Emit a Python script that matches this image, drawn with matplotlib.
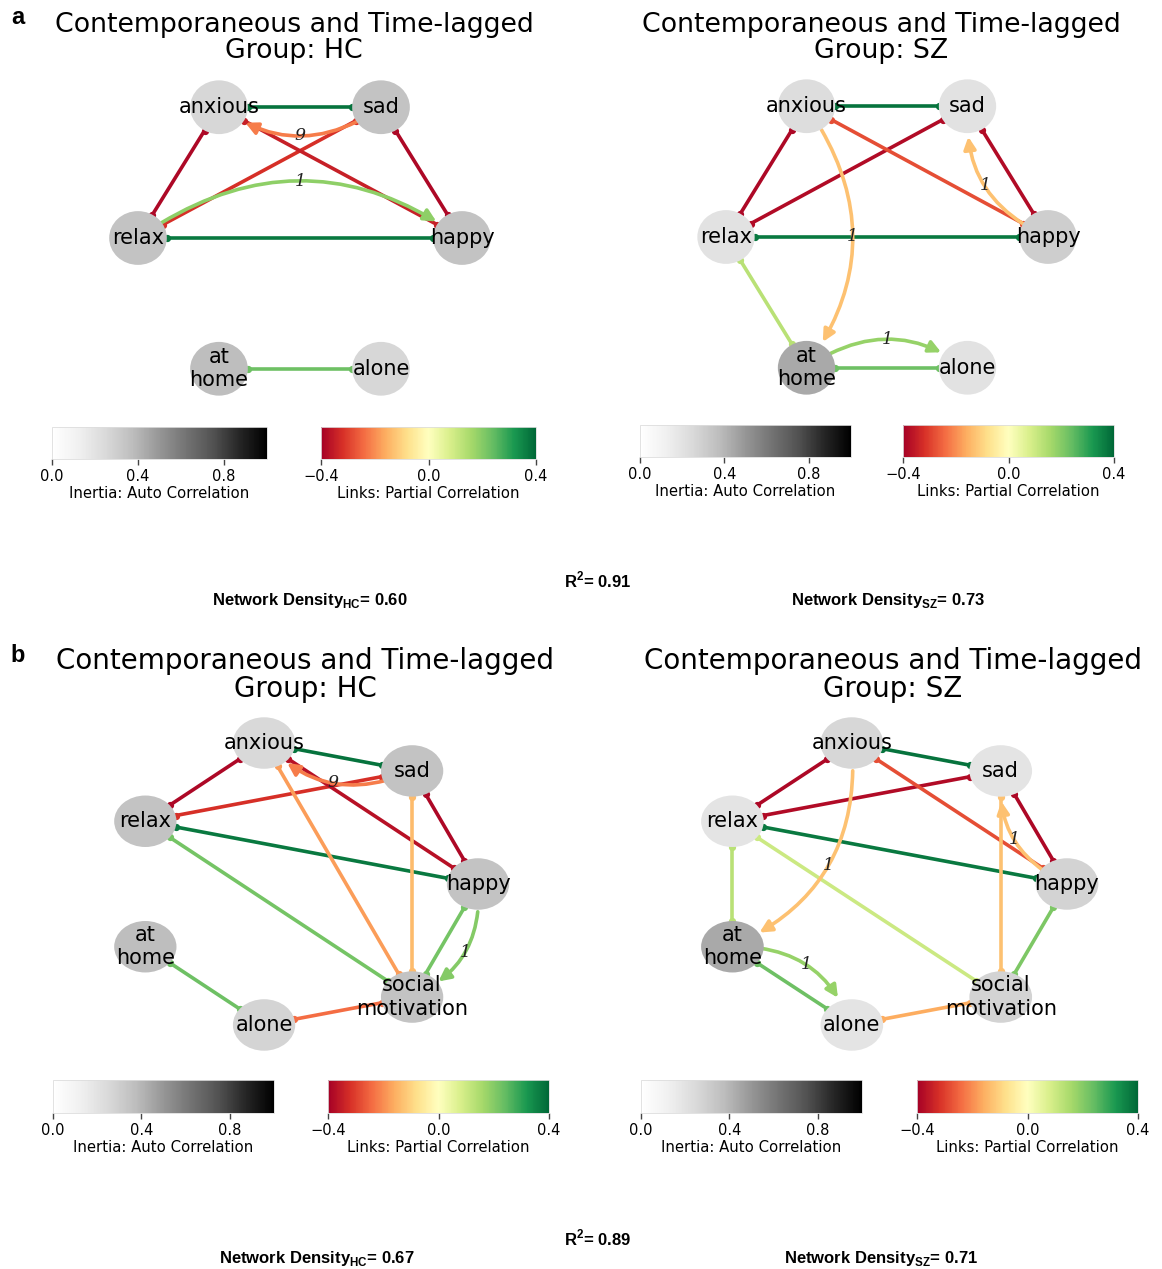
import numpy as np
import matplotlib as mpl
import matplotlib.pyplot as plt
from matplotlib.patches import Circle, FancyArrowPatch

plt.rcParams["font.family"] = ["DejaVu Sans"]
plt.rcParams["mathtext.fontset"] = "custom"
plt.rcParams["mathtext.bf"] = "Liberation Sans:bold"
plt.rcParams["mathtext.rm"] = "Liberation Sans:bold"

W, H = 1162, 1269

nodes_a = ["happy", "sad", "anxious", "relax", "at home", "alone"]
nodes_b = ["happy", "sad", "anxious", "relax", "at home", "alone", "social motivation"]

# inertia (auto correlation) per node
inertia_a_hc = [0.35, 0.35, 0.26, 0.35, 0.37, 0.26]
inertia_a_sz = [0.30, 0.20, 0.23, 0.20, 0.44, 0.20]
inertia_b_hc = [0.35, 0.35, 0.25, 0.35, 0.37, 0.27, 0.35]
inertia_b_sz = [0.28, 0.19, 0.26, 0.19, 0.44, 0.19, 0.28]

# contemporaneous links (partial correlation)
links_a_hc = [
    ("anxious", "sad", 0.38), ("relax", "happy", 0.37), ("anxious", "relax", -0.385),
    ("sad", "happy", -0.385), ("sad", "relax", -0.32), ("anxious", "happy", -0.345),
    ("at home", "alone", 0.23),
]
links_a_sz = [
    ("anxious", "sad", 0.38), ("relax", "happy", 0.37), ("anxious", "relax", -0.385),
    ("sad", "relax", -0.38), ("sad", "happy", -0.38), ("anxious", "happy", -0.28),
    ("relax", "at home", 0.13), ("at home", "alone", 0.23),
]
links_b_hc = [
    ("anxious", "sad", 0.38), ("relax", "happy", 0.37), ("anxious", "relax", -0.385),
    ("sad", "relax", -0.32), ("anxious", "happy", -0.37), ("sad", "happy", -0.385),
    ("relax", "social motivation", 0.22), ("happy", "social motivation", 0.22),
    ("anxious", "social motivation", -0.18), ("sad", "social motivation", -0.14),
    ("at home", "alone", 0.23), ("alone", "social motivation", -0.24),
]
links_b_sz = [
    ("anxious", "sad", 0.38), ("relax", "happy", 0.37), ("anxious", "relax", -0.385),
    ("sad", "relax", -0.38), ("anxious", "happy", -0.28), ("sad", "happy", -0.385),
    ("relax", "at home", 0.13), ("relax", "social motivation", 0.1),
    ("happy", "social motivation", 0.21), ("sad", "social motivation", -0.13),
    ("at home", "alone", 0.23), ("alone", "social motivation", -0.16),
]

# time-lagged links (source, target, partial correlation, lag label)
lagged_a_hc = [("sad", "anxious", -0.22, "9"), ("relax", "happy", 0.19, "1")]
lagged_a_sz = [("anxious", "at home", -0.13, "1"), ("happy", "sad", -0.13, "1"),
               ("at home", "alone", 0.18, "1")]
lagged_b_hc = [("sad", "anxious", -0.22, "9"), ("happy", "social motivation", 0.2, "1")]
lagged_b_sz = [("anxious", "at home", -0.13, "1"), ("happy", "sad", -0.13, "1"),
               ("at home", "alone", 0.18, "1")]

r2_values = ["0.91", "0.89"]
density_hc = ["0.60", "0.67"]
density_sz = ["0.73", "0.71"]

node_cmap = plt.get_cmap("Greys")
edge_cmap = plt.get_cmap("RdYlGn")
node_norm = mpl.colors.Normalize(0, 1)
edge_norm = mpl.colors.Normalize(-0.4, 0.4)

fig = plt.figure(figsize=(W / 100, H / 100), dpi=100)


def px_rect(x0, y0, w, h):
    return [x0 / W, 1 - (y0 + h) / H, w / W, h / H]


def draw_network(geom, nodes, inertia, links, lagged, group, title_xy, title_size, cb_px):
    cx, cy, rx, ry = geom
    ax = fig.add_axes(px_rect(cx - 1.3 * rx, cy - 1.3 * ry, 2.6 * rx, 2.6 * ry))
    ax.set_xlim(-1.3, 1.3)
    ax.set_ylim(-1.3, 1.3)
    ax.axis("off")

    ang = 2 * np.pi * np.arange(len(nodes)) / len(nodes)
    pos = {n: np.array([np.cos(a), np.sin(a)]) for n, a in zip(nodes, ang)}
    rad_node = 0.178

    for a, b, w in links:
        p1, p2 = pos[a], pos[b]
        d = (p2 - p1) / np.linalg.norm(p2 - p1)
        s, e = p1 + rad_node * d, p2 - rad_node * d
        c = edge_cmap(edge_norm(w))
        ax.plot([s[0], e[0]], [s[1], e[1]], "-", color=c, lw=2.6,
                solid_capstyle="butt", zorder=1)
        ax.plot([s[0], e[0]], [s[1], e[1]], "o", color=c, ms=4.2, zorder=1.2)

    rad = -0.35
    for a, b, w, lab in lagged:
        c = edge_cmap(edge_norm(w))
        arr = FancyArrowPatch(pos[a], pos[b], connectionstyle=f"arc3,rad={rad}",
                              arrowstyle="-|>", mutation_scale=18, lw=2.6,
                              color=c, shrinkA=20, shrinkB=22, zorder=1.5)
        ax.add_patch(arr)
        p1 = ax.transData.transform(pos[a])
        p2 = ax.transData.transform(pos[b])
        dd = p2 - p1
        mid = (p1 + p2) / 2 + 0.5 * rad * np.array([dd[1], -dd[0]])
        lx, ly = ax.transData.inverted().transform(mid)
        ax.text(lx, ly, lab, fontsize=12.5, family="DejaVu Serif", style="italic",
                ha="center", va="center", color="#222222", zorder=4)

    for n, v in zip(nodes, inertia):
        ax.add_patch(Circle(pos[n], rad_node, facecolor=node_cmap(node_norm(v)),
                            edgecolor="none", zorder=2))
        ax.text(pos[n][0], pos[n][1], n.replace(" ", "\n"), fontsize=15,
                ha="center", va="center", linespacing=1.2, zorder=3)

    tx, ty = title_xy
    fig.text(tx / W, 1 - ty / H, f"Contemporaneous and Time-lagged\nGroup: {group}",
             fontsize=title_size, ha="center", va="center", linespacing=1.02)

    (gx0, gx1, rx0, rx1, y0, h) = cb_px
    for x0, x1, cmap, norm, ticks, label in [
        (gx0, gx1, node_cmap, node_norm, [0, 0.4, 0.8], "Inertia: Auto Correlation"),
        (rx0, rx1, edge_cmap, edge_norm, [-0.4, 0, 0.4], "Links: Partial Correlation"),
    ]:
        cax = fig.add_axes(px_rect(x0, y0, x1 - x0, h))
        sm = mpl.cm.ScalarMappable(norm=norm, cmap=cmap)
        cb = fig.colorbar(sm, cax=cax, orientation="horizontal", ticks=ticks)
        cb.outline.set_edgecolor("#dddddd")
        cb.outline.set_linewidth(0.6)
        cb.ax.tick_params(labelsize=10.5, length=4, width=1, color="#444444", pad=3.5)
        cb.set_label(label, fontsize=10.7, labelpad=1)


draw_network((300, 238, 162, 151), nodes_a, inertia_a_hc, links_a_hc, lagged_a_hc,
             "HC", (294, 38), 19.3, (52, 267, 321, 536, 427, 32))
draw_network((887, 237, 161, 151), nodes_a, inertia_a_sz, links_a_sz, lagged_a_sz,
             "SZ", (881, 38), 19.3, (640, 851, 903, 1114, 425, 32))
draw_network((303, 884, 175, 144.6), nodes_b, inertia_b_hc, links_b_hc, lagged_b_hc,
             "HC", (305, 675), 20, (53, 274, 328, 549, 1080, 33))
draw_network((891, 884, 176, 144.6), nodes_b, inertia_b_sz, links_b_sz, lagged_b_sz,
             "SZ", (893, 675), 20, (641, 862, 917, 1138, 1080, 33))

foot_kw = dict(fontsize=12, family="Liberation Sans", weight="bold",
               ha="center", va="center")
for i, (yr, yd, xh, xs) in enumerate([(580, 600, 310, 888), (1238, 1258, 317, 881)]):
    fig.text(598 / W, 1 - yr / H, r"R$^{\mathbf{2}}$= " + r2_values[i], **foot_kw)
    fig.text(xh / W, 1 - yd / H, r"Network Density$_{\mathbf{HC}}$= " + density_hc[i], **foot_kw)
    fig.text(xs / W, 1 - yd / H, r"Network Density$_{\mathbf{SZ}}$= " + density_sz[i], **foot_kw)

for lab, y in [("a", 18), ("b", 655)]:
    fig.text(18 / W, 1 - y / H, lab, fontsize=17, family="Liberation Sans",
             weight="bold", ha="center", va="center")

fig.savefig("out.png", dpi=100)
